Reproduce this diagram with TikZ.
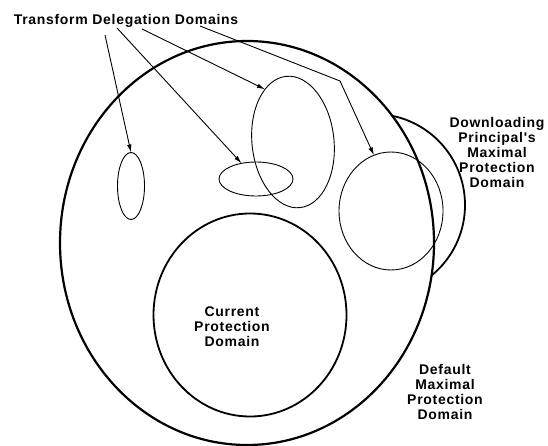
\documentclass[tikz,border=0pt]{standalone}
\usepackage{fontspec}
\setmainfont{Liberation Sans}
\newfontfamily\lblfont[LetterSpace=5]{Liberation Sans}
\usetikzlibrary{shapes.geometric,arrows.meta}
\tikzset
{
    domshape/.style  = {ellipse, draw=black, inner sep=0pt, outer sep=0pt},
    maxdomain/.style = {domshape, line width=2.2pt},
    curdomain/.style = {domshape, line width=1.8pt},
    deldomain/.style = {domshape, line width=0.9pt},
    lbl/.style       = {align=center, font=\lblfont\bfseries\fontsize{14}{15}\selectfont}
}

\begin{document}
\begin{tikzpicture}[x=1pt, y=-1pt, >={Latex[length=8pt,width=4.5pt]}]
\useasboundingbox (0,0) rectangle (548,446);

\node (dflt)   [maxdomain, minimum width=374pt, minimum height=404pt] at (247,243) {};
\node (cur)    [curdomain, minimum width=193pt, minimum height=203pt] at (250,315) {};
\node (lefte)  [deldomain, minimum width=27pt,  minimum height=67pt]  at (131,186) {};
\node (flat)   [deldomain, minimum width=74pt,  minimum height=34pt]  at (256,179) {};
\node (tall)   [deldomain, minimum width=82pt,  minimum height=132pt, rotate=6] at (293,142) {};
\node (righte) [deldomain, minimum width=104pt, minimum height=118pt] at (391,211) {};

%% downloading principal's domain, only the part outside the default one
\begin{scope}[even odd rule]
  \clip (0,0) rectangle (548,446) (247,243) ellipse [x radius=187pt, y radius=202pt];
  \draw[line width=1.8pt] (374,205) circle (91pt);
\end{scope}

%% labels
\node (title) [lbl, anchor=base] at (126,25) {Transform Delegation Domains};
\node (curlbl)  [lbl] at (232,327) {Current\\Protection\\Domain};
\node (dwnlbl)  [lbl] at (497,152) {Downloading\\Principal's\\Maximal\\Protection\\Domain};
\node (dfltlbl) [lbl] at (445,392) {Default\\Maximal\\Protection\\Domain};

%% arrows from the title
\coordinate (a1) at (105,35);
\coordinate (a2) at (117,28);
\coordinate (a3) at (142,29);
\coordinate (a4) at (200,26);
\coordinate (bend) at (340,81);

\path[line width=0.9pt]
(a1) edge[->] (lefte.north)
(a2) edge[->] (flat)
(a3) edge[->] (tall.112);
\draw[->, line width=0.9pt] (a4) -- (bend) -- (righte.107);
\end{tikzpicture}
\end{document}
